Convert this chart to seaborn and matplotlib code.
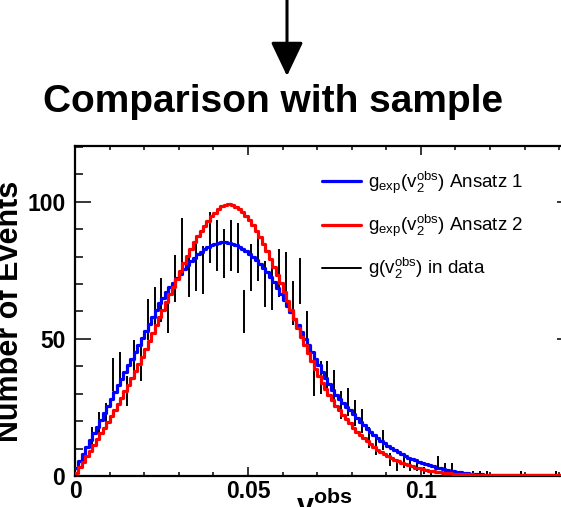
import numpy as np
import pandas as pd
import matplotlib
matplotlib.use("Agg")
import matplotlib.pyplot as plt
from matplotlib.lines import Line2D
from matplotlib.ticker import MultipleLocator
import seaborn as sns

# expected distributions, bins of 0.001 starting at v2obs = 0
ansatz1 = [3, 5.5, 8, 10.5, 13, 15.5, 18, 20.5, 23, 25.5,
           28, 30.5, 33, 35.5, 38, 40.4, 42.8, 45.3, 47.8, 50.4,
           53, 55.5, 58, 60.5, 63, 65, 67, 68.8, 70.5, 72.2,
           73.8, 75.4, 76.9, 78.3, 79.6, 80.8, 81.8, 82.7, 83.5, 84.1,
           84.6, 85, 85.2, 85.2, 85, 84.7, 84.2, 83.6, 82.9, 82.1,
           81.1, 80, 78.8, 77.4, 75.9, 74.3, 72.5, 70.6, 68.6, 66.5,
           64.3, 62, 59.7, 57.3, 54.9, 52.5, 50.1, 47.6, 45.1, 42.7,
           40.3, 37.9, 35.6, 33.4, 31.2, 29.7, 28.2, 26.7, 25.3, 23.9,
           22.5, 21.1, 19.8, 18.5, 17.2, 16, 14.9, 13.9, 12.9, 11.9,
           11, 10.2, 9.4, 8.7, 8, 7.3, 6.7, 6.2, 5.7, 5.2,
           4.8, 4.4, 4, 3.5, 3.1, 2.8, 2.5, 2.2, 1.9, 1.7,
           1.5, 1.3, 1.15, 1, 0.9, 0.8, 0.7, 0.6, 0.5, 0.5,
           0.5, 0.5, 0.5, 0.5, 0.5, 0.5, 0.5, 0.5, 0.5, 0.5,
           0.5, 0.5, 0.5, 0.5, 0.5, 0.5, 0.5, 0.5, 0.5, 0.5,
           0.5, 0.5, 0.5, 0.5, 0.5]
ansatz2 = [1.2, 3.2, 5.2, 7.2, 9.2, 11.3, 13.4, 15.5, 17.6, 19.7,
           21.9, 24.1, 26.3, 28.6, 30.9, 33.3, 35.7, 38.2, 40.8, 43.5,
           46.3, 49.1, 52, 54.9, 57.8, 60.6, 63.4, 66.2, 69, 71.9,
           74.8, 77.6, 80.3, 82.8, 85.2, 87.4, 89.4, 91.3, 93, 94.6,
           96, 97.3, 98.3, 98.9, 99, 98.7, 98.1, 97.3, 96.2, 94.9,
           93.3, 91.5, 89.4, 87.1, 84.6, 82, 79.2, 76.3, 73.3, 70.2,
           67, 63.8, 60.5, 57.2, 54, 50.8, 47.7, 44.7, 41.8, 39,
           36.4, 34, 31.7, 29.6, 27.6, 25.7, 24, 22.3, 20.7, 19.2,
           17.6, 16.2, 14.9, 13.7, 12.6, 11.5, 10.5, 9.6, 8.7, 7.9,
           7.2, 6.5, 5.9, 5.3, 4.8, 4.3, 3.9, 3.5, 3.1, 2.8,
           2.5, 2.2, 2, 1.8, 1.6, 1.4, 1.25, 1.1, 1, 0.9,
           0.8, 0.75, 0.7, 0.65, 0.6, 0.55, 0.5, 0.5, 0.5, 0.5,
           0.5, 0.5, 0.5, 0.5, 0.5, 0.5, 0.5, 0.5, 0.5, 0.5,
           0.5, 0.5, 0.5, 0.5, 0.5, 0.5, 0.5, 0.5, 0.5, 0.5,
           0.5, 0.5, 0.5, 0.5, 0.5]

# data histogram, bins of 0.002 starting at 0
data_counts = [2, 7, 14, 19, 22, 37, 39, 31, 43, 41,
               57, 61, 64, 60, 72, 85, 74, 76, 75, 87,
               84, 81, 84, 83, 60, 76, 80, 70, 69, 74,
               73, 63, 71, 53, 35, 36, 36, 33, 26, 27,
               23, 20, 14, 11, 13, 6, 4, 5, 4, 4,
               2, 1, 5, 3, 3, 0, 0, 1, 1, 1,
               0, 0, 0, 0, 1, 0, 0, 0, 0, 1, 0]

labels = [r"g$_{\mathrm{exp}}$(v$_{2}^{\mathrm{obs}}$) Ansatz 1",
          r"g$_{\mathrm{exp}}$(v$_{2}^{\mathrm{obs}}$) Ansatz 2",
          r"g(v$_{2}^{\mathrm{obs}}$) in data"]
xticks = [0, 0.05, 0.1]
xticklabels = ["0", "0.05", "0.1"]
yticks = [0, 50, 100]
yticklabels = ["0", "50", "100"]

sns.set_style("ticks")
plt.rcParams["font.family"] = ["Liberation Sans", "DejaVu Sans"]
plt.rcParams["mathtext.fontset"] = "custom"
plt.rcParams["mathtext.rm"] = "Liberation Sans"
plt.rcParams["mathtext.it"] = "Liberation Sans:italic"
plt.rcParams["mathtext.bf"] = "Liberation Sans:bold"
for key in ["text.color", "axes.labelcolor", "xtick.color", "ytick.color"]:
    plt.rcParams[key] = "black"

fig = plt.figure(figsize=(5.61, 5.07), dpi=100)
ax = fig.add_axes([0.1337, 0.0611, 0.8877, 0.651])

fine_edges = np.linspace(0, 0.001 * len(ansatz1), len(ansatz1) + 1)
curves = pd.DataFrame({
    "v": 0.5 * (fine_edges[1:] + fine_edges[:-1]),
    "a1": ansatz1,
    "a2": ansatz2,
})

counts = np.array(data_counts, dtype=float)
data_x = 0.001 + 0.002 * np.arange(len(counts))
nz = counts > 0
ax.errorbar(data_x[nz], counts[nz], yerr=np.sqrt(counts[nz]), fmt="none",
            ecolor="black", elinewidth=1.4, capsize=0, zorder=2)

sns.histplot(data=curves, x="v", weights="a1", bins=list(fine_edges),
             element="step", fill=False, color="#0000ff", linewidth=2.3,
             ax=ax, zorder=3)
sns.histplot(data=curves, x="v", weights="a2", bins=list(fine_edges),
             element="step", fill=False, color="#ff0000", linewidth=2.3,
             ax=ax, zorder=4)

ax.set_xlim(0, 0.144)
ax.set_ylim(0, 120.3)
ax.set_xticks(xticks)
ax.set_xticklabels(xticklabels)
ax.set_yticks(yticks)
ax.set_yticklabels(yticklabels)
ax.xaxis.set_minor_locator(MultipleLocator(0.01))
ax.yaxis.set_minor_locator(MultipleLocator(10))

for s in ax.spines.values():
    s.set_linewidth(1.6)
    s.set_color("black")
    s.set_visible(True)

ax.tick_params(axis="y", which="major", direction="in", length=11.3, width=1.1,
               left=True, right=True, pad=7)
ax.tick_params(axis="y", which="minor", direction="in", length=5.5, width=1.1,
               left=True, right=True)
ax.tick_params(axis="x", which="major", direction="in", length=6.3, width=1.1,
               bottom=True, top=True, pad=3)
ax.tick_params(axis="x", which="minor", direction="in", length=3.2, width=1.1,
               bottom=True, top=True)
for lab in ax.get_xticklabels() + ax.get_yticklabels():
    lab.set_fontsize(16.5)
    lab.set_fontweight("bold")

ax.set_ylabel("Number of Events", fontsize=22, fontweight="bold")
ax.yaxis.set_label_coords(-0.101, 0.5)
ax.set_xlabel(r"$\mathbf{v}_{\mathbf{2}}^{\mathbf{obs}}$", fontsize=22)
ax.xaxis.set_label_coords(0.5, -0.03)

handles = [Line2D([], [], color="#0000ff", lw=2.3),
           Line2D([], [], color="#ff0000", lw=2.3),
           Line2D([], [], color="black", lw=1.4)]
ax.legend(handles, labels, loc="upper left", bbox_to_anchor=(0.496, 0.928),
          frameon=False, fontsize=13.5, handlelength=2.1, handletextpad=0.35,
          labelspacing=0.9, borderpad=0, borderaxespad=0)

fig.text(273 / 561, 1 - 112 / 507, "Comparison with sample", ha="center",
         va="baseline", fontsize=28, fontweight="bold")
ax.annotate("", xy=(287, 507 - 76), xytext=(287, 512), xycoords="figure pixels",
            textcoords="figure pixels",
            arrowprops=dict(arrowstyle="-|>,head_length=1.05,head_width=0.5",
                            mutation_scale=20, lw=2.2, color="black",
                            shrinkA=0, shrinkB=0))

fig.savefig("out.png", dpi=100)
